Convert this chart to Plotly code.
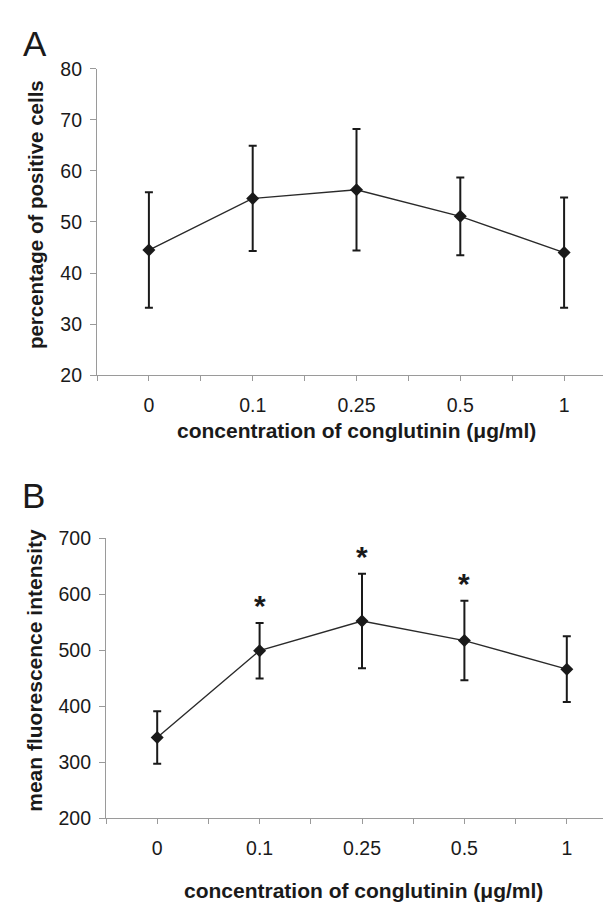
import plotly.graph_objects as go

# ---- data ----
categories = ["0", "0.1", "0.25", "0.5", "1"]

pct_mean = [44.5, 54.6, 56.3, 51.1, 44.0]
pct_sd = [11.3, 10.3, 11.9, 7.6, 10.8]

mfi_mean = [344, 499, 552, 517, 466]
mfi_sd = [47, 49.5, 84.5, 71, 58.5]
mfi_sig = [False, True, True, True, False]

x_title = "concentration of conglutinin (\u03bcg/ml)"
a_ytitle = "percentage of positive cells"
b_ytitle = "mean fluorescence intensity"

# ---- styling ----
W, H = 611, 906
FONT = "Liberation Sans, Arial, Helvetica, sans-serif"
INK = "#1a1a1a"
AXIS = "#9a9a9a"

xpos = list(range(len(categories)))
half_ticks = [i - 0.5 for i in range(len(categories) + 1)]


def px(xp, yp):
    return xp / W, 1 - yp / H


fig = go.Figure()

for mean, sd, xa, ya in [(pct_mean, pct_sd, "x", "y"), (mfi_mean, mfi_sd, "x2", "y2")]:
    fig.add_trace(go.Scatter(
        x=xpos, y=mean, xaxis=xa, yaxis=ya, mode="lines+markers",
        line=dict(color="#2a2a2a", width=1.4),
        marker=dict(symbol="diamond", size=10, color=INK),
        error_y=dict(type="data", array=sd, visible=True, thickness=2, width=4, color=INK),
        showlegend=False, hoverinfo="skip",
    ))

xcommon = dict(
    tickmode="array", tickvals=xpos, ticktext=categories,
    range=[-0.5, len(categories) - 0.5],
    showline=True, linecolor=AXIS, linewidth=1.2,
    ticks="outside", ticklen=5, tickcolor=AXIS, tickwidth=1.2,
    minor=dict(tickmode="array", tickvals=half_ticks, ticks="outside", ticklen=5,
               tickcolor=AXIS, tickwidth=1.2),
    showgrid=False, zeroline=False,
    tickfont=dict(family=FONT, size=19.5, color=INK),
    ticklabelstandoff=7,
)
ycommon = dict(
    showline=True, linecolor=AXIS, linewidth=1.2,
    ticks="outside", ticklen=6, tickcolor=AXIS, tickwidth=1.2,
    showgrid=False, zeroline=False,
    tickfont=dict(family=FONT, size=19.5, color=INK),
    ticklabelstandoff=4,
)

fig.update_layout(
    width=W, height=H,
    margin=dict(l=0, r=0, t=0, b=0),
    paper_bgcolor="white", plot_bgcolor="white",
    xaxis=dict(domain=[89 / W, 608 / W], anchor="y", **xcommon),
    yaxis=dict(domain=[1 - 365 / H, 1 - 51 / H], anchor="x",
               range=[20, 80], dtick=10, tick0=20, **ycommon),
    xaxis2=dict(domain=[98 / W, 610 / W], anchor="y2", **xcommon),
    yaxis2=dict(domain=[1 - 819 / H, 1 - 532 / H], anchor="x2",
                range=[200, 700], dtick=100, tick0=200, **ycommon),
)

ann = []


def label(text, xp, yp, size, bold=False, angle=0):
    x, y = px(xp, yp)
    ann.append(dict(
        text=f"<b>{text}</b>" if bold else text, x=x, y=y, xref="paper", yref="paper",
        xanchor="center", yanchor="middle", showarrow=False, textangle=angle,
        font=dict(family=FONT, size=size, color=INK),
    ))


label("A", 27, 25, 35)
label("B", 25, 488, 35)
label(a_ytitle, 27, 201, 20.5, bold=True, angle=-90)
label(b_ytitle, 27, 668, 21, bold=True, angle=-90)
label(x_title, 348, 422, 21, bold=True)
label(x_title, 355, 893, 21, bold=True)

for i, sig in enumerate(mfi_sig):
    if sig:
        ann.append(dict(
            text="<b>*</b>", x=xpos[i], y=mfi_mean[i] + mfi_sd[i], xref="x2", yref="y2",
            xanchor="center", yanchor="bottom", yshift=-1, showarrow=False,
            font=dict(family=FONT, size=30, color=INK),
        ))

fig.update_layout(annotations=ann)

fig.write_html("out.html")
